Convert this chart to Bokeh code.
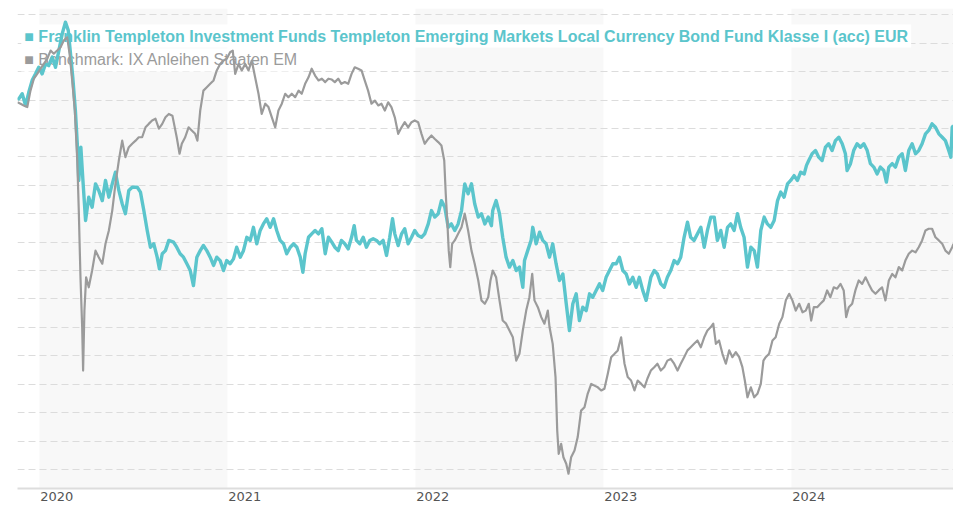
from bokeh.plotting import figure
from bokeh.models import Range1d, FixedTicker, BoxAnnotation, Label, CustomJSTickFormatter
from bokeh.embed import file_html
from bokeh.resources import INLINE

# ---- data (x = decimal year, y = performance index, one unit per grid step) ----
fund_t = [
    2019.883, 2019.890, 2019.908, 2019.926, 2019.943, 2019.961, 2019.979, 2019.996,
    2020.014, 2020.032, 2020.049, 2020.068, 2020.085, 2020.103, 2020.121, 2020.138, 2020.153, 2020.165,
    2020.177, 2020.191, 2020.201, 2020.209, 2020.220, 2020.230, 2020.245, 2020.262, 2020.280, 2020.298,
    2020.315, 2020.334, 2020.351, 2020.369, 2020.387, 2020.404, 2020.422, 2020.440, 2020.457, 2020.475,
    2020.493, 2020.520, 2020.537, 2020.555, 2020.573, 2020.590, 2020.608, 2020.626, 2020.638, 2020.653,
    2020.670, 2020.688, 2020.713, 2020.730, 2020.748, 2020.766, 2020.784, 2020.802, 2020.819, 2020.837,
    2020.855, 2020.872, 2020.890, 2020.908, 2020.926, 2020.943, 2020.961, 2020.979, 2020.996,
    2021.014, 2021.032, 2021.049, 2021.068, 2021.085, 2021.103, 2021.121, 2021.138, 2021.156, 2021.174,
    2021.191, 2021.209, 2021.227, 2021.245, 2021.262, 2021.280, 2021.298, 2021.315, 2021.334, 2021.351,
    2021.369, 2021.387, 2021.401, 2021.413, 2021.431, 2021.448, 2021.466, 2021.484, 2021.502, 2021.520,
    2021.537, 2021.555, 2021.571, 2021.589, 2021.606, 2021.624, 2021.642, 2021.660, 2021.674, 2021.686,
    2021.704, 2021.722, 2021.739, 2021.757, 2021.775, 2021.793, 2021.810, 2021.828, 2021.846, 2021.863,
    2021.878, 2021.890, 2021.908, 2021.926, 2021.943, 2021.961, 2021.979, 2021.996,
    2022.014, 2022.032, 2022.049, 2022.068, 2022.085, 2022.103, 2022.121, 2022.138, 2022.156, 2022.174,
    2022.191, 2022.209, 2022.227, 2022.245, 2022.262, 2022.280, 2022.298, 2022.315, 2022.334, 2022.351,
    2022.369, 2022.387, 2022.404, 2022.411, 2022.429, 2022.447, 2022.464, 2022.482, 2022.500, 2022.518,
    2022.536, 2022.553, 2022.571, 2022.580, 2022.597, 2022.615, 2022.624, 2022.642, 2022.660, 2022.677,
    2022.695, 2022.713, 2022.730, 2022.748, 2022.766, 2022.784, 2022.802, 2022.819, 2022.837, 2022.855,
    2022.872, 2022.890, 2022.908, 2022.926, 2022.943, 2022.961, 2022.979, 2022.996,
    2023.014, 2023.032, 2023.050, 2023.068, 2023.085, 2023.103, 2023.121, 2023.138, 2023.156, 2023.174,
    2023.191, 2023.209, 2023.227, 2023.252, 2023.270, 2023.287, 2023.305, 2023.323, 2023.340, 2023.358,
    2023.376, 2023.394, 2023.411, 2023.429, 2023.447, 2023.464, 2023.482, 2023.500, 2023.518, 2023.536,
    2023.553, 2023.571, 2023.589, 2023.606, 2023.624, 2023.642, 2023.660, 2023.677, 2023.695, 2023.713,
    2023.730, 2023.748, 2023.766, 2023.784, 2023.802, 2023.819, 2023.837, 2023.855, 2023.872, 2023.890,
    2023.908, 2023.926, 2023.943, 2023.961, 2023.979, 2023.996,
    2024.014, 2024.032, 2024.049, 2024.068, 2024.080, 2024.092, 2024.110, 2024.128, 2024.145, 2024.163,
    2024.181, 2024.198, 2024.216, 2024.234, 2024.252, 2024.270, 2024.287, 2024.296, 2024.314, 2024.331,
    2024.349, 2024.367, 2024.385, 2024.403, 2024.420, 2024.438, 2024.456, 2024.473, 2024.491, 2024.505,
    2024.518, 2024.536, 2024.553, 2024.571, 2024.589, 2024.606, 2024.624, 2024.642, 2024.660, 2024.677,
    2024.695, 2024.713, 2024.730, 2024.748, 2024.766, 2024.784, 2024.802, 2024.819, 2024.837, 2024.848,
    2024.855, 2024.862,
]
fund_v = [
    0.09, 0.04, 0.22, -0.19, 0.27, 0.69, 0.92, 1.15,
    0.92, 1.27, 1.21, 1.51, 1.15, 1.74, 2.33, 2.74, 2.45, 1.63,
    0.80, -0.37, -1.53, -2.83, -1.66, -2.72, -4.24, -3.42, -3.77, -2.95,
    -3.18, -3.54, -2.83, -3.42, -2.95, -2.54, -3.18, -3.65, -4.00, -3.18,
    -3.07, -3.07, -3.24, -3.89, -4.59, -5.18, -5.06, -5.53, -5.94, -5.41,
    -5.30, -4.94, -5.00, -5.18, -5.41, -5.53, -5.76, -6.00, -6.53, -5.53,
    -5.30, -5.12, -5.30, -5.53, -5.82, -5.53, -5.65, -6.00, -5.65,
    -5.76, -5.59, -5.18, -5.53, -5.30, -4.83, -4.94, -4.48, -5.06, -4.59,
    -4.36, -4.18, -4.48, -4.18, -4.59, -4.94, -5.06, -5.41, -5.18, -5.06,
    -5.18, -5.53, -6.06, -5.41, -4.83, -4.71, -4.59, -4.71, -4.53, -5.41,
    -4.83, -5.00, -5.18, -5.30, -4.94, -5.06, -5.24, -4.83, -4.42, -4.94,
    -5.06, -4.83, -5.18, -4.94, -4.88, -4.94, -5.06, -4.94, -5.47, -4.83,
    -4.18, -4.71, -5.12, -4.71, -4.53, -5.06, -4.83, -4.59,
    -4.77, -4.83, -4.71, -4.36, -3.89, -4.12, -4.00, -3.54, -3.77, -4.48,
    -4.36, -4.59, -4.36, -3.89, -2.95, -3.30, -2.95, -3.65, -4.12, -4.00,
    -4.36, -4.12, -4.42, -3.89, -3.54, -4.00, -4.83, -5.53, -5.88, -5.65,
    -6.00, -5.88, -6.59, -5.65, -5.30, -4.94, -4.48, -5.06, -4.65, -4.94,
    -5.06, -5.53, -5.06, -5.76, -6.35, -6.12, -7.17, -8.11, -7.17, -6.82,
    -7.76, -7.29, -7.41, -6.82, -6.94, -6.70, -6.47, -6.70,
    -6.24, -6.00, -5.76, -5.76, -5.53, -6.00, -6.12, -6.47, -6.24, -6.59,
    -6.24, -6.70, -7.05, -6.24, -6.00, -6.12, -6.47, -6.59, -6.24, -6.00,
    -5.65, -5.76, -5.53, -4.83, -4.30, -4.83, -4.94, -4.71, -4.48, -5.18,
    -4.59, -4.12, -4.12, -4.94, -4.59, -5.18, -4.48, -4.36, -4.59, -4.00,
    -4.48, -4.83, -5.88, -5.18, -5.30, -5.88, -4.59, -4.12, -4.36, -4.48,
    -4.24, -3.54, -3.24, -3.42, -2.95, -2.83,
    -2.66, -2.83, -2.54, -2.60, -2.30, -2.13, -1.89, -1.78, -2.01, -2.13,
    -1.66, -1.54, -1.78, -1.43, -1.31, -1.54, -1.89, -2.48, -2.24, -1.78,
    -1.54, -1.66, -1.54, -1.78, -2.24, -2.36, -2.60, -2.36, -2.48, -2.89,
    -2.36, -2.24, -2.36, -2.01, -1.89, -2.48, -1.78, -1.54, -1.89, -1.78,
    -1.54, -1.19, -1.07, -0.84, -0.96, -1.19, -1.31, -1.43, -1.78, -2.01,
    -0.96, -0.90,
]

bench_t = [
    2019.883, 2019.899, 2019.916, 2019.935, 2019.952, 2019.970, 2019.988,
    2020.005, 2020.023, 2020.041, 2020.059, 2020.076, 2020.094, 2020.112, 2020.129, 2020.147, 2020.160,
    2020.174, 2020.188, 2020.201, 2020.209, 2020.218, 2020.227, 2020.232, 2020.239, 2020.248, 2020.262,
    2020.280, 2020.298, 2020.315, 2020.334, 2020.351, 2020.369, 2020.387, 2020.404, 2020.422, 2020.440,
    2020.457, 2020.475, 2020.493, 2020.511, 2020.528, 2020.546, 2020.564, 2020.581, 2020.599, 2020.617,
    2020.635, 2020.653, 2020.670, 2020.688, 2020.707, 2020.730, 2020.745, 2020.757, 2020.775, 2020.793,
    2020.810, 2020.828, 2020.840, 2020.855, 2020.872, 2020.890, 2020.908, 2020.926, 2020.943, 2020.961,
    2020.979, 2020.996,
    2021.014, 2021.028, 2021.041, 2021.059, 2021.076, 2021.094, 2021.112, 2021.129, 2021.147, 2021.165,
    2021.182, 2021.201, 2021.218, 2021.236, 2021.254, 2021.271, 2021.289, 2021.307, 2021.324, 2021.342,
    2021.360, 2021.378, 2021.395, 2021.413, 2021.431, 2021.448, 2021.466, 2021.484, 2021.502, 2021.520,
    2021.537, 2021.555, 2021.571, 2021.589, 2021.606, 2021.624, 2021.642, 2021.660, 2021.677, 2021.695,
    2021.713, 2021.730, 2021.748, 2021.766, 2021.784, 2021.802, 2021.819, 2021.837, 2021.855, 2021.872,
    2021.890, 2021.908, 2021.926, 2021.943, 2021.961, 2021.979, 2021.996,
    2022.014, 2022.032, 2022.049, 2022.068, 2022.085, 2022.103, 2022.121, 2022.138, 2022.153, 2022.161,
    2022.170, 2022.177, 2022.185, 2022.195, 2022.209, 2022.227, 2022.245, 2022.262, 2022.280, 2022.298,
    2022.315, 2022.334, 2022.351, 2022.369, 2022.387, 2022.399, 2022.411, 2022.429, 2022.447, 2022.464,
    2022.482, 2022.500, 2022.518, 2022.536, 2022.553, 2022.571, 2022.589, 2022.606, 2022.621, 2022.633,
    2022.651, 2022.669, 2022.686, 2022.704, 2022.713, 2022.730, 2022.745, 2022.754, 2022.762, 2022.775,
    2022.787, 2022.802, 2022.814, 2022.828, 2022.846, 2022.863, 2022.881, 2022.899, 2022.916, 2022.935,
    2022.952, 2022.970, 2022.988,
    2023.005, 2023.023, 2023.041, 2023.059, 2023.076, 2023.094, 2023.112, 2023.129, 2023.147, 2023.165,
    2023.182, 2023.201, 2023.218, 2023.234, 2023.252, 2023.270, 2023.287, 2023.305, 2023.323, 2023.340,
    2023.358, 2023.376, 2023.394, 2023.411, 2023.429, 2023.447, 2023.464, 2023.482, 2023.500, 2023.518,
    2023.536, 2023.553, 2023.571, 2023.584, 2023.598, 2023.615, 2023.633, 2023.651, 2023.669, 2023.686,
    2023.704, 2023.722, 2023.739, 2023.752, 2023.766, 2023.784, 2023.802, 2023.819, 2023.837, 2023.851,
    2023.863, 2023.881, 2023.899, 2023.916, 2023.935, 2023.952, 2023.970, 2023.988,
    2024.005, 2024.023, 2024.041, 2024.059, 2024.076, 2024.092, 2024.105, 2024.119, 2024.137, 2024.154,
    2024.172, 2024.190, 2024.207, 2024.225, 2024.243, 2024.261, 2024.278, 2024.291, 2024.305, 2024.323,
    2024.340, 2024.358, 2024.376, 2024.394, 2024.411, 2024.429, 2024.447, 2024.464, 2024.482, 2024.500,
    2024.518, 2024.536, 2024.553, 2024.571, 2024.589, 2024.606, 2024.624, 2024.642, 2024.660, 2024.677,
    2024.695, 2024.713, 2024.730, 2024.748, 2024.766, 2024.784, 2024.802, 2024.819, 2024.837, 2024.855,
    2024.862,
]
bench_v = [
    -0.08, -0.13, -0.19, -0.25, 0.33, 0.75, 0.92,
    1.10, 1.27, 1.45, 1.74, 1.63, 1.74, 1.86, 2.09, 2.21, 1.63,
    0.69, -0.37, -2.13, -3.89, -6.24, -7.99, -9.52, -7.41, -6.24, -6.59,
    -6.00, -5.30, -5.53, -5.76, -5.06, -4.59, -3.89, -2.95, -2.13, -1.43,
    -2.01, -1.66, -1.54, -1.43, -1.31, -1.31, -0.96, -0.84, -0.72, -0.66,
    -1.01, -0.84, -0.61, -0.49, -0.55, -1.31, -1.89, -1.54, -1.31, -0.96,
    -1.07, -1.19, -1.43, -0.37, 0.33, 0.45, 0.57, 0.69, 1.04, 1.27,
    1.39, 1.45,
    1.68, 1.74, 0.92, 1.27, 1.04, 1.27, 1.04, 1.39, 0.80, 0.22,
    -0.49, -0.13, -0.25, -0.61, -0.96, -0.37, -0.13, 0.22, 0.10, 0.22,
    0.10, 0.33, 0.22, 0.57, 0.80, 1.10, 0.86, 0.69, 0.75, 0.63,
    0.75, 0.72, 0.63, 0.75, 0.57, 0.63, 0.57, 0.92, 1.15, 1.10,
    1.04, 0.69, 0.33, -0.13, -0.02, -0.19, -0.13, -0.37, -0.08, -0.25,
    -0.61, -1.19, -0.96, -0.78, -0.96, -0.78, -0.72,
    -0.78, -1.19, -1.54, -1.37, -1.25, -1.37, -1.48, -1.60, -2.13, -3.30,
    -4.36, -5.30, -5.88, -5.06, -4.94, -4.71, -4.48, -4.00, -4.59, -5.30,
    -5.76, -6.35, -7.05, -7.17, -6.94, -6.35, -6.00, -6.24, -7.05, -7.76,
    -7.87, -8.11, -8.35, -9.17, -8.93, -8.11, -7.41, -6.94, -6.12, -7.05,
    -7.29, -7.64, -7.87, -7.41, -7.99, -8.58, -9.75, -11.63, -12.45, -12.10,
    -12.57, -12.80, -13.15, -12.57, -12.33, -11.86, -10.93, -10.81, -10.34, -9.99,
    -10.05, -10.11, -10.22,
    -10.16, -9.63, -9.05, -8.93, -8.81, -8.35, -9.28, -9.75, -9.87, -10.22,
    -9.87, -9.99, -10.11, -9.80, -9.52, -9.40, -9.28, -9.52, -9.40, -9.17,
    -9.11, -9.28, -9.52, -9.28, -9.05, -8.81, -8.70, -8.58, -8.46, -8.70,
    -8.35, -8.11, -7.99, -7.87, -8.58, -8.46, -8.93, -9.28, -8.81, -9.05,
    -8.87, -9.05, -9.40, -9.87, -10.46, -10.11, -10.46, -10.34, -9.99, -9.17,
    -9.05, -8.93, -8.46, -8.35, -7.87, -7.64, -7.05, -6.82,
    -7.05, -7.41, -7.17, -7.47, -7.41, -7.17, -7.76, -7.29, -7.29, -7.17,
    -7.05, -6.70, -6.94, -6.59, -6.64, -6.47, -6.70, -7.64, -7.29, -7.17,
    -6.70, -6.35, -6.47, -6.24, -6.47, -6.70, -6.82, -6.70, -6.59, -7.05,
    -6.35, -6.12, -6.24, -5.88, -6.00, -5.65, -5.41, -5.30, -5.36, -5.18,
    -4.94, -4.59, -4.53, -4.53, -4.83, -4.94, -5.06, -5.30, -5.41, -5.18,
    -5.06,
]

year_ticks = [2020, 2021, 2022, 2023, 2024]
shaded_years = [2020, 2022, 2024]
grid_levels = list(range(-13, 4))

fund_name = ("Franklin Templeton Investment Funds Templeton Emerging Markets "
             "Local Currency Bond Fund Klasse I (acc) EUR")
bench_name = "Benchmark: IX Anleihen Staaten EM"

FUND_COLOR = "#5bc5cc"
BENCH_COLOR = "#9b9b9b"

X_START, X_END = 2019.883, 2024.862
LABEL_SHIFT = 0.092   # year labels sit just right of each year boundary

p = figure(width=953, height=507, output_backend="svg", toolbar_location=None,
           x_range=Range1d(X_START, X_END), y_range=Range1d(-13.67, 3.22),
           min_border_left=17, min_border_right=0, min_border_top=8, min_border_bottom=19)
p.outline_line_color = None
p.background_fill_color = "white"
p.border_fill_color = "white"

p.yaxis.visible = False
p.xgrid.visible = False
p.ygrid.ticker = FixedTicker(ticks=grid_levels)
p.ygrid.grid_line_color = "#dcdcdc"
p.ygrid.grid_line_dash = "7 4"
p.ygrid.grid_line_width = 1

ax = p.xaxis[0]
ax.ticker = FixedTicker(ticks=[y + LABEL_SHIFT for y in year_ticks])
ax.formatter = CustomJSTickFormatter(code="return String(Math.floor(tick));")
ax.major_tick_line_color = None
ax.minor_tick_line_color = None
ax.major_tick_out = 0
ax.major_tick_in = 0
ax.axis_line_color = "#dddddd"
ax.axis_line_width = 2
ax.major_label_text_font = "DejaVu Sans"
ax.major_label_text_font_size = "13px"
ax.major_label_text_color = "#555555"
ax.major_label_standoff = 3

for yr in shaded_years:
    p.add_layout(BoxAnnotation(left=yr, right=min(yr + 1, X_END), fill_color="#f8f8f8",
                               fill_alpha=1.0, line_color=None, level="image"))

p.add_layout(Label(x=2019.903, y=2.25, text="\u25a0 " + fund_name, text_color=FUND_COLOR,
                   text_font="Liberation Sans", text_font_style="bold", text_font_size="16px",
                   text_baseline="alphabetic", text_align="left", level="underlay",
                   background_fill_color="white", padding=3))
p.add_layout(Label(x=2019.903, y=1.41, text="\u25a0 " + bench_name, text_color=BENCH_COLOR,
                   text_font="Liberation Sans", text_font_size="16px",
                   text_baseline="alphabetic", text_align="left", level="underlay",
                   background_fill_color="white", padding=3))

p.line(fund_t, fund_v, line_color=FUND_COLOR, line_width=3.4, line_join="round")
p.line(bench_t, bench_v, line_color=BENCH_COLOR, line_width=2.2, line_join="round")

open("out.html", "w").write(file_html(p, INLINE))
